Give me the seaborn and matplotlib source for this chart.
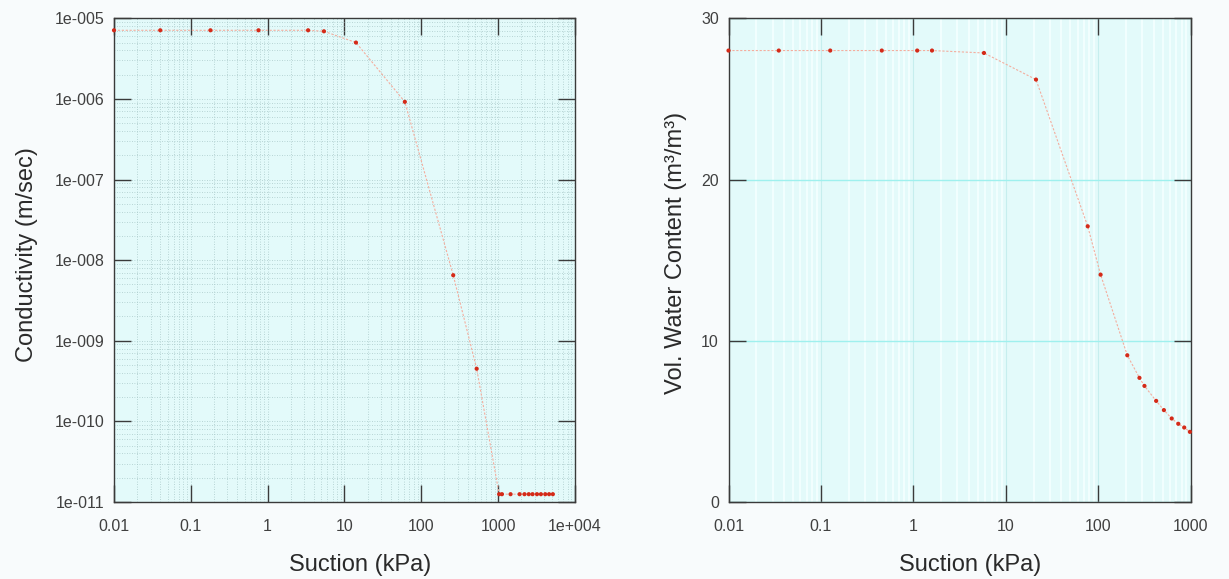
import matplotlib
matplotlib.use("Agg")
import matplotlib.pyplot as plt
import seaborn as sns
import pandas as pd
from matplotlib.ticker import FixedLocator, FixedFormatter, LogLocator, NullFormatter

# ---- data ----
suction_k = [0.01, 0.040, 0.18, 0.76, 3.36, 5.4, 14.1, 61, 260, 525,
             1030, 1120, 1450, 1900, 2200, 2500, 2800, 3200, 3600, 4100, 4600, 5150]
conductivity = [7.1e-6, 7.1e-6, 7.1e-6, 7.1e-6, 7.1e-6, 6.9e-6, 5.0e-6, 9.2e-7, 6.5e-9, 4.5e-10,
                1.25e-11, 1.25e-11, 1.25e-11, 1.25e-11, 1.25e-11, 1.25e-11, 1.25e-11,
                1.25e-11, 1.25e-11, 1.25e-11, 1.25e-11, 1.25e-11]

suction_w = [0.01, 0.035, 0.126, 0.455, 1.10, 1.59, 5.8, 21.2, 76.9, 106,
             206, 279, 316, 423, 513, 623, 734, 851, 980]
water = [28.0, 28.0, 28.0, 28.0, 28.0, 28.0, 27.85, 26.2, 17.1, 14.1,
         9.1, 7.7, 7.2, 6.27, 5.7, 5.18, 4.85, 4.62, 4.35]

k_xticks = [0.01, 0.1, 1, 10, 100, 1000, 10000]
k_xlabels = ["0.01", "0.1", "1", "10", "100", "1000", "1e+004"]
k_yticks = [1e-11, 1e-10, 1e-9, 1e-8, 1e-7, 1e-6, 1e-5]
k_ylabels = ["1e-011", "1e-010", "1e-009", "1e-008", "1e-007", "1e-006", "1e-005"]
w_xticks = [0.01, 0.1, 1, 10, 100, 1000]
w_xlabels = ["0.01", "0.1", "1", "10", "100", "1000"]
w_yticks = [0, 10, 20, 30]

df_k = pd.DataFrame({"suction": suction_k, "k": conductivity})
df_w = pd.DataFrame({"suction": suction_w, "w": water})

sns.set_theme(style="ticks")
plt.rcParams["font.family"] = ["Liberation Sans", "DejaVu Sans"]

fig = plt.figure(figsize=(12.29, 5.79), dpi=100, facecolor="#f8fbfc")
ax1 = fig.add_axes([114 / 1229, 1 - 502 / 579, (575 - 114) / 1229, (502 - 18.3) / 579])
ax2 = fig.add_axes([728.5 / 1229, 1 - 502 / 579, (1190.7 - 728.5) / 1229, (502 - 18.3) / 579])

face = "#e3fafa"
line_c = "#f4ad9e"
dot_c = "#d42a18"
spine_c = "#3a3a3a"
tick_c = "#404040"
label_c = "#2a2a2a"

for ax in (ax1, ax2):
    ax.set_facecolor(face)
    for s in ax.spines.values():
        s.set_color(spine_c)
        s.set_linewidth(1.0)
    ax.set_xscale("log")

# ---- left: conductivity ----
sns.lineplot(data=df_k, x="suction", y="k", ax=ax1, color=line_c, lw=0.8,
             linestyle=(0, (2, 1.5)), sort=False)
sns.scatterplot(data=df_k, x="suction", y="k", ax=ax1, color=dot_c, s=9,
                edgecolor="none", zorder=5, clip_on=False)
ax1.set_yscale("log")
ax1.set_xlim(0.01, 10000)
ax1.set_ylim(1e-11, 1e-5)
ax1.xaxis.set_major_locator(FixedLocator(k_xticks))
ax1.xaxis.set_major_formatter(FixedFormatter(k_xlabels))
ax1.yaxis.set_major_locator(FixedLocator(k_yticks))
ax1.yaxis.set_major_formatter(FixedFormatter(k_ylabels))
ax1.xaxis.set_minor_locator(LogLocator(base=10, subs=range(2, 10), numticks=50))
ax1.yaxis.set_minor_locator(LogLocator(base=10, subs=range(2, 10), numticks=50))
ax1.xaxis.set_minor_formatter(NullFormatter())
ax1.yaxis.set_minor_formatter(NullFormatter())
ax1.grid(which="both", color="#a9c9c9", linestyle=(0, (1, 2)), lw=0.6)
ax1.set_xlabel("Suction (kPa)", fontsize=17, color=label_c, labelpad=15)
ax1.set_ylabel("Conductivity (m/sec)", fontsize=17, color=label_c, labelpad=12)
ax1.xaxis.label.set_x(0.534)
ax1.yaxis.label.set_y(0.512)

# ---- right: water content ----
sns.lineplot(data=df_w, x="suction", y="w", ax=ax2, color=line_c, lw=0.8,
             linestyle=(0, (2, 1.5)), sort=False)
sns.scatterplot(data=df_w, x="suction", y="w", ax=ax2, color=dot_c, s=9,
                edgecolor="none", zorder=5, clip_on=False)
ax2.set_xlim(0.01, 1000)
ax2.set_ylim(0, 30)
ax2.xaxis.set_major_locator(FixedLocator(w_xticks))
ax2.xaxis.set_major_formatter(FixedFormatter(w_xlabels))
ax2.yaxis.set_major_locator(FixedLocator(w_yticks))
ax2.xaxis.set_minor_locator(LogLocator(base=10, subs=range(2, 10), numticks=50))
ax2.xaxis.set_minor_formatter(NullFormatter())
ax2.grid(which="minor", axis="x", color="#f4ffff", lw=1.2)
ax2.grid(which="major", axis="x", color="#c6eeee", lw=0.8)
ax2.grid(which="major", axis="y", color="#9ff0ee", lw=1.0)
ax2.set_xlabel("Suction (kPa)", fontsize=17, color=label_c, labelpad=15)
ax2.set_ylabel("Vol. Water Content (m\u00b3/m\u00b3)", fontsize=17, color=label_c, labelpad=10)
ax2.xaxis.label.set_x(0.523)
ax2.yaxis.label.set_y(0.515)

for ax in (ax1, ax2):
    ax.tick_params(which="major", direction="in", length=12, width=1.0, color=spine_c,
                   top=True, right=True, labelsize=11.5, labelcolor=tick_c, pad=7)
    ax.tick_params(which="minor", length=0, top=True, right=True)
    ax.tick_params(axis="x", which="major", pad=12)

fig.savefig("out.png", dpi=100, facecolor=fig.get_facecolor())
